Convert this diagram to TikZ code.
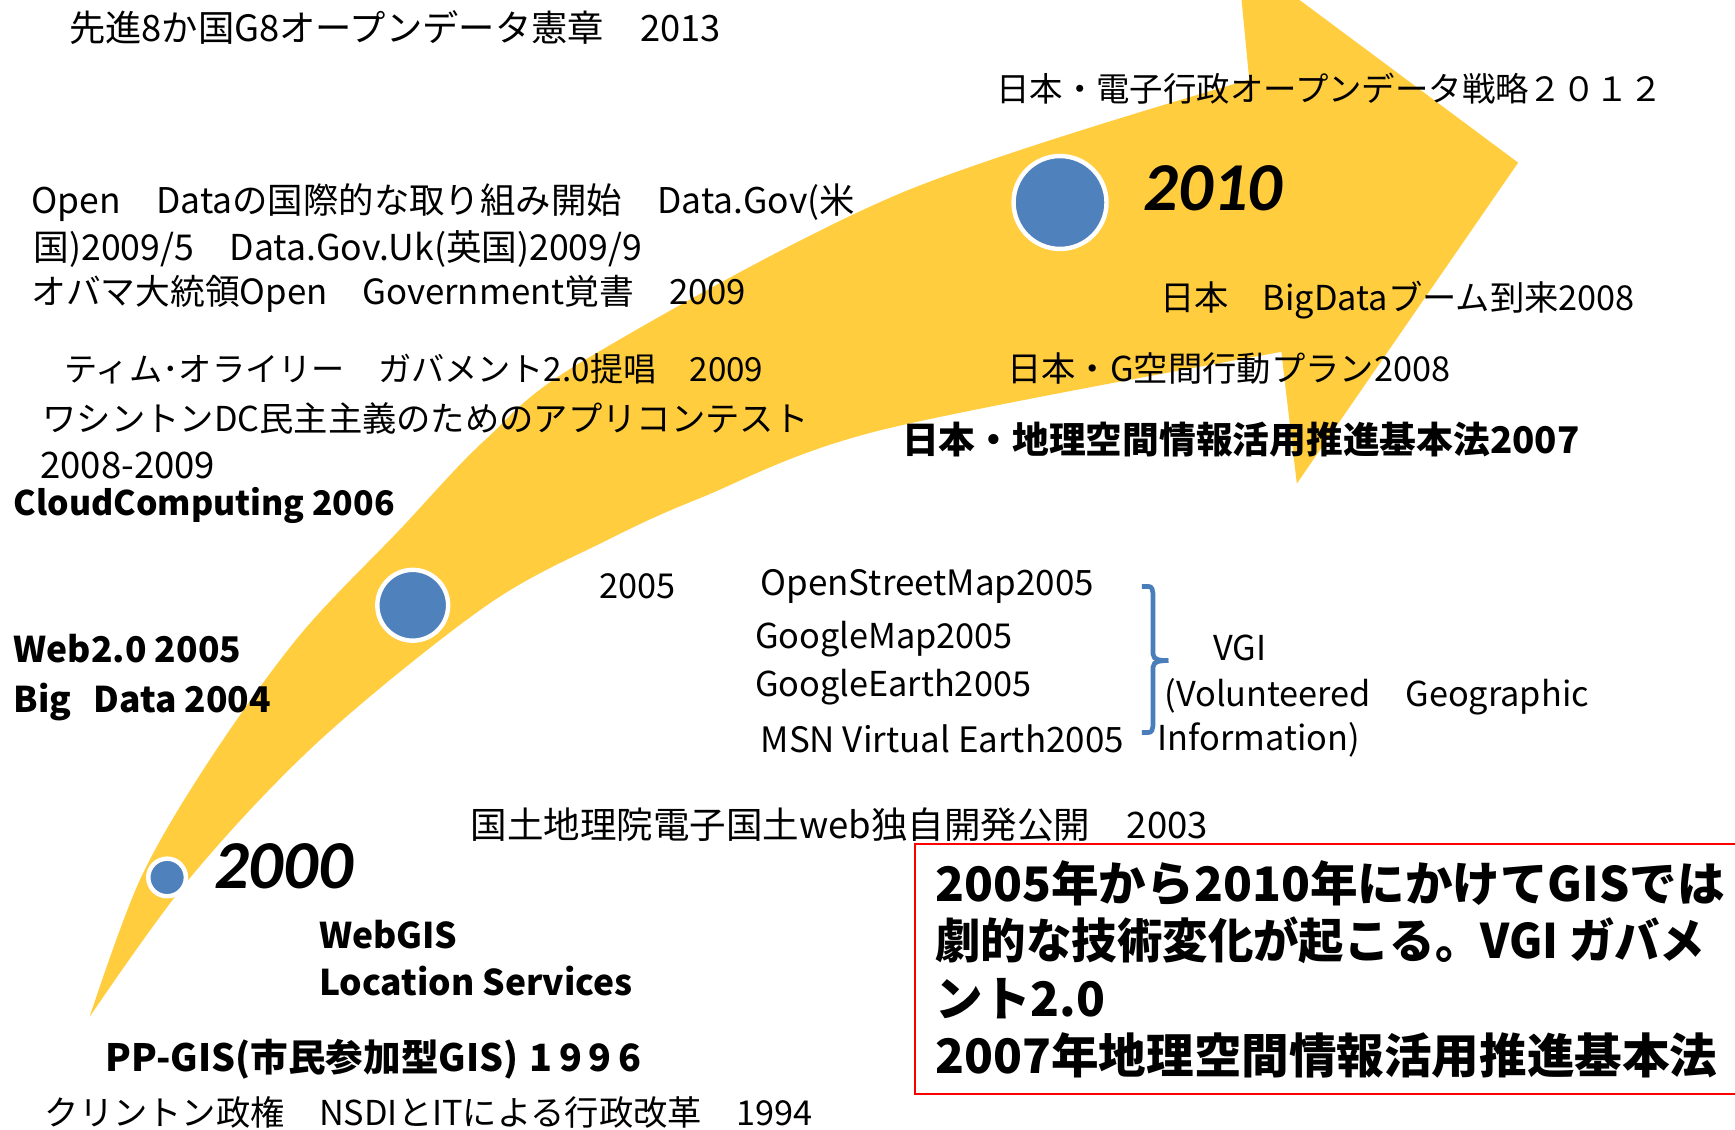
\documentclass[tikz,border=0pt]{standalone}
\usepackage{fontspec}
\setmainfont{Noto Sans CJK JP}
\newfontfamily\yearfont{Carlito}
\definecolor{arrowyellow}{RGB}{255,205,62}
\definecolor{dotblue}{RGB}{79,129,189}
\definecolor{braceblue}{RGB}{74,126,187}
\newcommand\fsz[1]{\fontsize{#1}{#1}\selectfont}
\begin{document}
\begin{tikzpicture}[x=0.5pt,y=-0.5pt,
  txt/.style={anchor=west, inner sep=0pt, text=black, font=\fsz{15.5pt}},
  btxt/.style={anchor=west, inner sep=0pt, text=black, font=\bfseries\fsz{16pt}},
  yr/.style={anchor=west, inner sep=0pt, font=\yearfont\bfseries\itshape\fsz{31pt}},
  dot/.style={circle, fill=dotblue, draw=white, line width=2pt, inner sep=0pt},
  redbox/.style={draw=red, line width=0.9pt, inner sep=0pt, anchor=north west, fill=white},
  brace/.style={draw=braceblue, line width=2.1pt}]
\useasboundingbox (0,0) rectangle (1568,1021);
\clip (0,0) rectangle (1568,1021);
\fill[white] (0,0) rectangle (1568,1021);
% curved arrow
\fill[arrowyellow] plot[smooth, tension=0.55] coordinates {(81,919) (127,794) (190,686) (271,574) (361,479) (438,398) (529,325) (813,175) (1129,72)}
  -- (1118,-42) -- (1372,147) -- (1172,437) -- (1158,318)
  -- plot[smooth, tension=0.55] coordinates {(1158,318) (795,389) (633,450) (549,488) (440,547) (289,669) (172,793) (81,919)} -- cycle;
% dots
\node[dot, minimum size=42pt] (d2010) at (958,183) {};
\node[dot, minimum size=32pt] (d2005) at (373,547) {};
\node[dot, minimum size=17pt] (d2000) at (151,793) {};
% years
\node[yr] (y2010) at (1033,170) {2010};
\node[yr] (y2000) at (193,783) {2000};
% texts
\node[txt, font=\fsz{16.4pt}] (g8) at (62,25) {先進8か国G8オープンデータ憲章　2013};
\node[txt, font=\fsz{15.1pt}] (jp2012) at (900,80) {日本・電子行政オープンデータ戦略２０１２};
\node[txt, font=\fsz{16pt}] (od1) at (28,183) {Open　Dataの国際的な取り組み開始　Data.Gov(米};
\node[txt, font=\fsz{16.1pt}] (od2) at (30,225) {国)2009/5　Data.Gov.Uk(英国)2009/9};
\node[txt, font=\fsz{15.7pt}] (od3) at (28,266) {オバマ大統領Open　Government覚書　2009};
\node[txt, font=\fsz{15pt}] (tim) at (58,333) {ティム･オライリー　ガバメント2.0提唱　2009};
\node[txt] (dc1) at (38,378) {ワシントンDC民主主義のためのアプリコンテスト};
\node[txt, font=\fsz{16.5pt}] (dc2) at (36,421) {2008-2009};
\node[btxt, font=\bfseries\fsz{15.3pt}] (cloud) at (12,457) {CloudComputing 2006};
\node[txt] (bigjp) at (1048,271) {日本　BigDataブーム到来2008};
\node[txt] (gspace) at (910,333) {日本・G空間行動プラン2008};
\node[btxt, font=\bfseries\fsz{16.6pt}] (law) at (815,397) {日本・地理空間情報活用推進基本法2007};
\node[txt] (y2005) at (541,530) {2005};
\node[txt, font=\fsz{15.8pt}] (osm) at (687,530) {OpenStreetMap2005};
\node[txt] (gmap) at (682,578) {GoogleMap2005};
\node[txt] (gearth) at (682,621) {GoogleEarth2005};
\node[txt, font=\fsz{15.8pt}] (msn) at (687,668) {MSN Virtual Earth2005};
\node[txt] (vgi1) at (1096,586) {VGI};
\node[txt] (vgi2) at (1052,630) {(Volunteered　Geographic};
\node[txt] (vgi3) at (1046,669) {Information)};
\node[btxt] (web2) at (12,586) {Web2.0 2005};
\node[btxt] (bigdata) at (12,634) {Big\hspace{10pt}Data 2004};
\node[txt, font=\fsz{16.5pt}] (gsi) at (425,745) {国土地理院電子国土web独自開発公開　2003};
\node[btxt] (webgis) at (288,845) {WebGIS};
\node[btxt] (lbs) at (288,887) {Location Services};
\node[btxt, font=\bfseries\fsz{17pt}] (ppgis) at (95,957) {PP-GIS(市民参加型GIS)\hspace{5pt}1\hspace{3pt}9\hspace{3pt}9\hspace{3pt}6};
\node[txt] (nsdi) at (40,1005) {クリントン政権　NSDIとITによる行政改革　1994};
% brace
\coordinate (bt) at (1032,530);
\coordinate (bm) at (1056,597);
\coordinate (bb) at (1032,662);
\draw[brace] (bt) -- (1038,530) to[out=0,in=90] (1042,536) -- (1042,591) to[out=-90,in=180] (bm)
  (bm) to[out=180,in=90] (1042,603) -- (1042,656) to[out=-90,in=0] (1038,662) -- (bb);
% red box
\node[redbox, minimum width=375pt, minimum height=113pt] (box) at (826,762) {};
\node[anchor=west, inner sep=0pt, align=left, font=\bfseries\fontsize{21.5pt}{26pt}\selectfont] (boxtext) at (845,876)
  {2005年から2010年にかけてGISでは\\\scalebox{0.955}[1]{劇的な技術変化が起こる。VGI ガバメ}\\ント2.0\\2007年地理空間情報活用推進基本法};
\end{tikzpicture}
\end{document}
